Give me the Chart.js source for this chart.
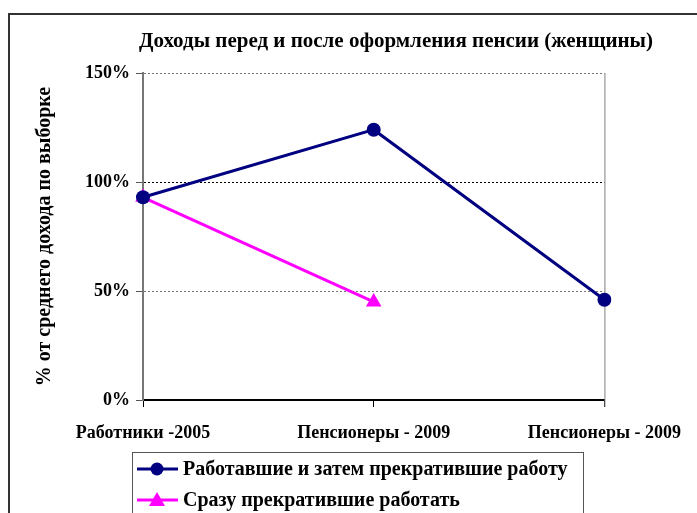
<!DOCTYPE html>
<html>
<head>
<meta charset="utf-8">
<script src="https://cdn.jsdelivr.net/npm/chart.js@4/dist/chart.umd.min.js"></script>
<style>
  body { margin: 0; background: #fff; }
  #wrap { position: relative; width: 697px; height: 513px; overflow: hidden; }
  #frame { position: absolute; left: 8px; top: 13px; width: 720px; height: 540px; border: 2px solid #333; box-sizing: border-box; }
  #chart { position: absolute; left: 0; top: 0; }
</style>
</head>
<body>
<div id="wrap">
  <div id="frame"></div>
  <canvas id="chart" width="697" height="513"></canvas>
</div>
<script>
/* данные */
const categories = ['Работники -2005', 'Пенсионеры - 2009', 'Пенсионеры - 2009'];
const workedThenStopped = [93, 124, 46];
const stoppedAtOnce     = [93, 45, null];
const yTicks = [0, 50, 100, 150];
const chartTitle = 'Доходы перед и после оформления пенсии (женщины)';

const FONT = 'Liberation Serif, Times New Roman, serif';

/* заголовок — по центру всей рамки, как в Excel */
const topTitle = {
  id: 'topTitle',
  afterDraw(chart) {
    const { ctx, chartArea } = chart;
    ctx.save();
    ctx.font = 'bold 21px ' + FONT;
    ctx.fillStyle = '#000';
    ctx.textAlign = 'center';
    ctx.textBaseline = 'middle';
    ctx.fillText(chartTitle, chartArea.left + 253, chartArea.top - 31);
    ctx.restore();
  }
};

/* легенда в рамке под графиком */
const boxLegend = {
  id: 'boxLegend',
  afterDraw(chart) {
    const { ctx, chartArea } = chart;
    const x0 = chartArea.left - 11, y0 = chartArea.bottom + 52;
    ctx.save();
    ctx.strokeStyle = '#555';
    ctx.lineWidth = 1;
    ctx.strokeRect(x0 + 0.5, y0 + 0.5, 451, 120);
    ctx.font = 'bold 20px ' + FONT;
    ctx.textBaseline = 'middle';
    chart.data.datasets.forEach((ds, i) => {
      const cy = y0 + 17 + i * 31;
      ctx.strokeStyle = ds.borderColor;
      ctx.lineWidth = 3;
      ctx.beginPath();
      ctx.moveTo(x0 + 5, cy);
      ctx.lineTo(x0 + 46, cy);
      ctx.stroke();
      ctx.fillStyle = ds.borderColor;
      ctx.beginPath();
      if (ds.pointStyle === 'triangle') {
        ctx.moveTo(x0 + 25, cy - 8);
        ctx.lineTo(x0 + 33, cy + 6);
        ctx.lineTo(x0 + 17, cy + 6);
        ctx.closePath();
      } else {
        ctx.arc(x0 + 25, cy, 6.5, 0, Math.PI * 2);
      }
      ctx.fill();
      ctx.fillStyle = '#000';
      ctx.fillText(ds.label, x0 + 51, cy + 1);
    });
    ctx.restore();
  }
};

/* правая граница области построения */
const plotBorder = {
  id: 'plotBorder',
  beforeDatasetsDraw(chart) {
    const { ctx, chartArea } = chart;
    ctx.save();
    ctx.strokeStyle = '#808080';
    ctx.lineWidth = 1;
    ctx.beginPath();
    ctx.moveTo(chartArea.right + 0.5, chartArea.top);
    ctx.lineTo(chartArea.right + 0.5, chartArea.bottom + 7);
    ctx.stroke();
    ctx.restore();
  }
};

new Chart(document.getElementById('chart'), {
  type: 'line',
  data: {
    labels: categories,
    datasets: [
      {
        label: 'Работавшие и затем прекратившие работу',
        data: workedThenStopped,
        borderColor: '#000080',
        backgroundColor: '#000080',
        borderWidth: 3,
        pointStyle: 'circle',
        pointRadius: 7,
        pointBorderWidth: 0,
        tension: 0
      },
      {
        label: 'Сразу прекратившие работать',
        data: stoppedAtOnce,
        borderColor: '#ff00ff',
        backgroundColor: '#ff00ff',
        borderWidth: 3,
        pointStyle: 'triangle',
        pointRadius: 9,
        pointBorderWidth: 0,
        tension: 0
      }
    ]
  },
  options: {
    responsive: false,
    animation: false,
    layout: { padding: { left: 0, right: 92, top: 73, bottom: 0 } },
    plugins: {
      legend: { display: false },
      tooltip: { enabled: false },
      title: { display: false }
    },
    scales: {
      x: {
        type: 'category',
        offset: false,
        afterFit: s => { s.height = 113; },
        grid: { drawOnChartArea: false, drawTicks: true, tickLength: 7, color: '#000' },
        border: { color: '#000', width: 2 },
        ticks: { color: '#000', padding: 16, maxRotation: 0, autoSkip: false, font: { family: FONT, size: 18, weight: 'bold' } }
      },
      y: {
        min: 0,
        max: 150,
        afterFit: s => { s.width = 143; },
        afterBuildTicks: s => { s.ticks = yTicks.map(v => ({ value: v })); },
        grid: {
          color: ctx => ctx.tick && ctx.tick.value === 100 ? '#000' : '#777',
          tickLength: 7,
          tickColor: '#555',
          tickBorderDash: [1, 0]
        },
        border: { color: '#777', width: 2, dash: [2, 2] },
        ticks: { color: '#000', padding: 6, callback: v => v + '%', font: { family: FONT, size: 18, weight: 'bold' } },
        title: {
          display: true,
          text: '% от среднего дохода по выборке',
          color: '#000',
          font: { family: FONT, size: 20, weight: 'bold' },
          padding: { top: 33, bottom: 0 }
        }
      }
    }
  },
  plugins: [plotBorder, topTitle, boxLegend]
});
</script>
</body>
</html>
